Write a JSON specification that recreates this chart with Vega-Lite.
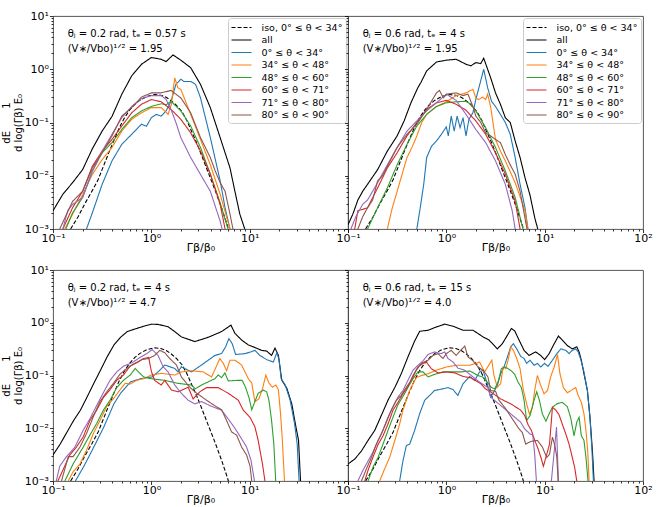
{
  "$schema": "https://vega.github.io/schema/vega-lite/v6.json",
  "background": "white",
  "padding": {"left": 0, "top": 9, "right": 5, "bottom": 0},
  "config": {
    "font": "DejaVu Sans",
    "view": {"stroke": "#444", "strokeWidth": 0.9},
    "axis": {"grid": false, "domain": false, "tickColor": "#000", "labelColor": "#000", "titleColor": "#000", "labelFontSize": 11, "titleFontSize": 11, "titleFontWeight": "normal", "labelFlush": false, "labelOverlap": false, "labelBound": false, "tickWidth": 0.8},
    "legend": {"symbolType": "M-2,0L2,0", "symbolSize": 100, "symbolOffset": 4, "symbolStrokeWidth": 1.5, "labelFontSize": 9.5, "labelColor": "#000", "rowPadding": 1.5, "padding": 3.5, "labelOffset": 14, "fillColor": "white", "strokeColor": "#cccccc", "cornerRadius": 3, "orient": "top-right", "offset": 2},
    "line": {"strokeWidth": 1.1, "clip": true}
  },
  "datasets": {
    "iso": [
      {"series": "iso", "x": 0.151, "y": 0.001}, {"series": "iso", "x": 0.18, "y": 0.0017}, {"series": "iso", "x": 0.211, "y": 0.003},
      {"series": "iso", "x": 0.25, "y": 0.0052}, {"series": "iso", "x": 0.288, "y": 0.0085}, {"series": "iso", "x": 0.33, "y": 0.016},
      {"series": "iso", "x": 0.363, "y": 0.025}, {"series": "iso", "x": 0.42, "y": 0.048}, {"series": "iso", "x": 0.473, "y": 0.08},
      {"series": "iso", "x": 0.53, "y": 0.12}, {"series": "iso", "x": 0.6, "y": 0.17}, {"series": "iso", "x": 0.68, "y": 0.22},
      {"series": "iso", "x": 0.76, "y": 0.26}, {"series": "iso", "x": 0.9, "y": 0.31}, {"series": "iso", "x": 1.08, "y": 0.335},
      {"series": "iso", "x": 1.25, "y": 0.325}, {"series": "iso", "x": 1.43, "y": 0.295}, {"series": "iso", "x": 1.62, "y": 0.25},
      {"series": "iso", "x": 1.8, "y": 0.21}, {"series": "iso", "x": 2.05, "y": 0.16}, {"series": "iso", "x": 2.29, "y": 0.11},
      {"series": "iso", "x": 2.55, "y": 0.07}, {"series": "iso", "x": 2.88, "y": 0.042}, {"series": "iso", "x": 3.25, "y": 0.024},
      {"series": "iso", "x": 3.66, "y": 0.0135}, {"series": "iso", "x": 4.15, "y": 0.0075}, {"series": "iso", "x": 4.65, "y": 0.0043},
      {"series": "iso", "x": 5.25, "y": 0.0023}, {"series": "iso", "x": 5.9, "y": 0.0012}, {"series": "iso", "x": 6.6, "y": 0.0006}
    ],
    "tl": [
      {"series": "all", "x": 0.1, "y": 0.0022}, {"series": "all", "x": 0.126, "y": 0.0045}, {"series": "all", "x": 0.158, "y": 0.0074},
      {"series": "all", "x": 0.2, "y": 0.013}, {"series": "all", "x": 0.251, "y": 0.032}, {"series": "all", "x": 0.316, "y": 0.069},
      {"series": "all", "x": 0.398, "y": 0.13}, {"series": "all", "x": 0.501, "y": 0.34}, {"series": "all", "x": 0.631, "y": 0.75},
      {"series": "all", "x": 0.794, "y": 1.24}, {"series": "all", "x": 1, "y": 1.66}, {"series": "all", "x": 1.259, "y": 1.54},
      {"series": "all", "x": 1.413, "y": 1.39}, {"series": "all", "x": 1.66, "y": 1.86}, {"series": "all", "x": 1.995, "y": 1.48},
      {"series": "all", "x": 2.512, "y": 1.07}, {"series": "all", "x": 3.162, "y": 0.52}, {"series": "all", "x": 3.981, "y": 0.19},
      {"series": "all", "x": 5.012, "y": 0.052}, {"series": "all", "x": 6.31, "y": 0.014}, {"series": "all", "x": 7.079, "y": 0.0051},
      {"series": "all", "x": 7.943, "y": 0.0019}, {"series": "all", "x": 8.913, "y": 0.001},

      {"series": "0-34", "x": 0.219, "y": 0.001}, {"series": "0-34", "x": 0.251, "y": 0.002}, {"series": "0-34", "x": 0.316, "y": 0.0069},
      {"series": "0-34", "x": 0.398, "y": 0.019}, {"series": "0-34", "x": 0.501, "y": 0.039}, {"series": "0-34", "x": 0.631, "y": 0.06},
      {"series": "0-34", "x": 0.794, "y": 0.093}, {"series": "0-34", "x": 0.891, "y": 0.085}, {"series": "0-34", "x": 1, "y": 0.123},
      {"series": "0-34", "x": 1.122, "y": 0.142}, {"series": "0-34", "x": 1.259, "y": 0.132}, {"series": "0-34", "x": 1.413, "y": 0.165},
      {"series": "0-34", "x": 1.585, "y": 0.25}, {"series": "0-34", "x": 1.778, "y": 0.52}, {"series": "0-34", "x": 1.995, "y": 0.65},
      {"series": "0-34", "x": 2.138, "y": 0.59}, {"series": "0-34", "x": 2.512, "y": 0.59}, {"series": "0-34", "x": 2.818, "y": 0.52},
      {"series": "0-34", "x": 3.162, "y": 0.29}, {"series": "0-34", "x": 3.548, "y": 0.123}, {"series": "0-34", "x": 3.981, "y": 0.052},
      {"series": "0-34", "x": 5.012, "y": 0.008}, {"series": "0-34", "x": 5.623, "y": 0.0025}, {"series": "0-34", "x": 6.31, "y": 0.001},

      {"series": "34-48", "x": 0.132, "y": 0.001}, {"series": "34-48", "x": 0.158, "y": 0.0019}, {"series": "34-48", "x": 0.2, "y": 0.0044},
      {"series": "34-48", "x": 0.251, "y": 0.0106}, {"series": "34-48", "x": 0.316, "y": 0.02}, {"series": "34-48", "x": 0.398, "y": 0.034},
      {"series": "34-48", "x": 0.501, "y": 0.069}, {"series": "34-48", "x": 0.631, "y": 0.115}, {"series": "34-48", "x": 0.794, "y": 0.152},
      {"series": "34-48", "x": 1, "y": 0.19}, {"series": "34-48", "x": 1.259, "y": 0.19}, {"series": "34-48", "x": 1.37, "y": 0.165},
      {"series": "34-48", "x": 1.48, "y": 0.142}, {"series": "34-48", "x": 1.6, "y": 0.22}, {"series": "34-48", "x": 1.73, "y": 0.69},
      {"series": "34-48", "x": 1.86, "y": 0.45}, {"series": "34-48", "x": 1.995, "y": 0.42}, {"series": "34-48", "x": 2.512, "y": 0.142},
      {"series": "34-48", "x": 3.162, "y": 0.048}, {"series": "34-48", "x": 3.981, "y": 0.016}, {"series": "34-48", "x": 5.012, "y": 0.0045},
      {"series": "34-48", "x": 6.31, "y": 0.001},

      {"series": "48-60", "x": 0.135, "y": 0.001}, {"series": "48-60", "x": 0.158, "y": 0.002}, {"series": "48-60", "x": 0.2, "y": 0.0039},
      {"series": "48-60", "x": 0.251, "y": 0.0123}, {"series": "48-60", "x": 0.316, "y": 0.027}, {"series": "48-60", "x": 0.398, "y": 0.042},
      {"series": "48-60", "x": 0.501, "y": 0.074}, {"series": "48-60", "x": 0.631, "y": 0.123}, {"series": "48-60", "x": 0.794, "y": 0.165},
      {"series": "48-60", "x": 1, "y": 0.2}, {"series": "48-60", "x": 1.259, "y": 0.225}, {"series": "48-60", "x": 1.413, "y": 0.215},
      {"series": "48-60", "x": 1.585, "y": 0.25}, {"series": "48-60", "x": 1.995, "y": 0.165}, {"series": "48-60", "x": 2.512, "y": 0.086},
      {"series": "48-60", "x": 3.162, "y": 0.034}, {"series": "48-60", "x": 3.981, "y": 0.0107}, {"series": "48-60", "x": 5.012, "y": 0.0031},
      {"series": "48-60", "x": 6.026, "y": 0.001},

      {"series": "60-71", "x": 0.126, "y": 0.001}, {"series": "60-71", "x": 0.158, "y": 0.0025}, {"series": "60-71", "x": 0.2, "y": 0.0051},
      {"series": "60-71", "x": 0.251, "y": 0.015}, {"series": "60-71", "x": 0.316, "y": 0.029}, {"series": "60-71", "x": 0.398, "y": 0.048},
      {"series": "60-71", "x": 0.501, "y": 0.086}, {"series": "60-71", "x": 0.631, "y": 0.152}, {"series": "60-71", "x": 0.794, "y": 0.22},
      {"series": "60-71", "x": 1, "y": 0.27}, {"series": "60-71", "x": 1.259, "y": 0.245}, {"series": "60-71", "x": 1.585, "y": 0.176},
      {"series": "60-71", "x": 1.995, "y": 0.115}, {"series": "60-71", "x": 2.512, "y": 0.064}, {"series": "60-71", "x": 3.162, "y": 0.029},
      {"series": "60-71", "x": 3.981, "y": 0.0107}, {"series": "60-71", "x": 5.012, "y": 0.0029}, {"series": "60-71", "x": 5.623, "y": 0.001},

      {"series": "71-80", "x": 0.126, "y": 0.001}, {"series": "71-80", "x": 0.141, "y": 0.0022}, {"series": "71-80", "x": 0.158, "y": 0.0029},
      {"series": "71-80", "x": 0.2, "y": 0.0039}, {"series": "71-80", "x": 0.251, "y": 0.012}, {"series": "71-80", "x": 0.316, "y": 0.029},
      {"series": "71-80", "x": 0.398, "y": 0.06}, {"series": "71-80", "x": 0.501, "y": 0.123}, {"series": "71-80", "x": 0.631, "y": 0.2},
      {"series": "71-80", "x": 0.794, "y": 0.28}, {"series": "71-80", "x": 1, "y": 0.32}, {"series": "71-80", "x": 1.259, "y": 0.32},
      {"series": "71-80", "x": 1.413, "y": 0.27}, {"series": "71-80", "x": 1.585, "y": 0.176}, {"series": "71-80", "x": 1.778, "y": 0.1},
      {"series": "71-80", "x": 1.995, "y": 0.052}, {"series": "71-80", "x": 2.512, "y": 0.022}, {"series": "71-80", "x": 3.162, "y": 0.0106},
      {"series": "71-80", "x": 3.981, "y": 0.0051}, {"series": "71-80", "x": 5.012, "y": 0.0014}, {"series": "71-80", "x": 5.248, "y": 0.001},

      {"series": "80-90", "x": 0.117, "y": 0.001}, {"series": "80-90", "x": 0.158, "y": 0.0033}, {"series": "80-90", "x": 0.2, "y": 0.0051},
      {"series": "80-90", "x": 0.251, "y": 0.014}, {"series": "80-90", "x": 0.316, "y": 0.027}, {"series": "80-90", "x": 0.398, "y": 0.056},
      {"series": "80-90", "x": 0.501, "y": 0.132}, {"series": "80-90", "x": 0.631, "y": 0.19}, {"series": "80-90", "x": 0.794, "y": 0.3},
      {"series": "80-90", "x": 1, "y": 0.36}, {"series": "80-90", "x": 1.259, "y": 0.36}, {"series": "80-90", "x": 1.585, "y": 0.4},
      {"series": "80-90", "x": 1.995, "y": 0.29}, {"series": "80-90", "x": 2.512, "y": 0.152}, {"series": "80-90", "x": 3.162, "y": 0.052},
      {"series": "80-90", "x": 3.981, "y": 0.022}, {"series": "80-90", "x": 4.467, "y": 0.0123}, {"series": "80-90", "x": 5.012, "y": 0.0074},
      {"series": "80-90", "x": 5.623, "y": 0.0051}, {"series": "80-90", "x": 6.31, "y": 0.0019}, {"series": "80-90", "x": 6.761, "y": 0.001}
    ],
    "tr": [
      {"series": "all", "x": 0.1, "y": 0.0012}, {"series": "all", "x": 0.112, "y": 0.0019}, {"series": "all", "x": 0.126, "y": 0.0035},
      {"series": "all", "x": 0.141, "y": 0.0051}, {"series": "all", "x": 0.158, "y": 0.0069}, {"series": "all", "x": 0.2, "y": 0.013},
      {"series": "all", "x": 0.251, "y": 0.029}, {"series": "all", "x": 0.316, "y": 0.056}, {"series": "all", "x": 0.372, "y": 0.107},
      {"series": "all", "x": 0.437, "y": 0.235}, {"series": "all", "x": 0.513, "y": 0.45}, {"series": "all", "x": 0.55, "y": 0.56},
      {"series": "all", "x": 0.631, "y": 0.93}, {"series": "all", "x": 0.794, "y": 1.37}, {"series": "all", "x": 1, "y": 1.48},
      {"series": "all", "x": 1.259, "y": 1.54}, {"series": "all", "x": 1.585, "y": 1.24}, {"series": "all", "x": 1.778, "y": 1.16},
      {"series": "all", "x": 1.995, "y": 1.33}, {"series": "all", "x": 2.239, "y": 1.28}, {"series": "all", "x": 2.399, "y": 1.61},
      {"series": "all", "x": 2.818, "y": 0.7}, {"series": "all", "x": 3.162, "y": 0.36}, {"series": "all", "x": 3.548, "y": 0.22},
      {"series": "all", "x": 3.981, "y": 0.123}, {"series": "all", "x": 4.467, "y": 0.1}, {"series": "all", "x": 5.012, "y": 0.045},
      {"series": "all", "x": 5.623, "y": 0.022}, {"series": "all", "x": 6.31, "y": 0.0092}, {"series": "all", "x": 7.079, "y": 0.0044},
      {"series": "all", "x": 7.943, "y": 0.0016}, {"series": "all", "x": 8.511, "y": 0.001},

      {"series": "0-34", "x": 0.501, "y": 0.001}, {"series": "0-34", "x": 0.537, "y": 0.0022}, {"series": "0-34", "x": 0.589, "y": 0.0069},
      {"series": "0-34", "x": 0.631, "y": 0.022}, {"series": "0-34", "x": 0.708, "y": 0.036}, {"series": "0-34", "x": 0.794, "y": 0.045},
      {"series": "0-34", "x": 0.891, "y": 0.06}, {"series": "0-34", "x": 1, "y": 0.083}, {"series": "0-34", "x": 1.047, "y": 0.056},
      {"series": "0-34", "x": 1.122, "y": 0.132}, {"series": "0-34", "x": 1.202, "y": 0.069}, {"series": "0-34", "x": 1.288, "y": 0.132},
      {"series": "0-34", "x": 1.38, "y": 0.08}, {"series": "0-34", "x": 1.479, "y": 0.123}, {"series": "0-34", "x": 1.585, "y": 0.056},
      {"series": "0-34", "x": 1.698, "y": 0.115}, {"series": "0-34", "x": 1.862, "y": 0.152}, {"series": "0-34", "x": 1.995, "y": 0.27},
      {"series": "0-34", "x": 2.188, "y": 0.52}, {"series": "0-34", "x": 2.399, "y": 1.0}, {"series": "0-34", "x": 2.63, "y": 0.45},
      {"series": "0-34", "x": 2.884, "y": 0.25}, {"series": "0-34", "x": 3.162, "y": 0.2}, {"series": "0-34", "x": 3.548, "y": 0.142},
      {"series": "0-34", "x": 3.981, "y": 0.1}, {"series": "0-34", "x": 4.467, "y": 0.06}, {"series": "0-34", "x": 5.012, "y": 0.022},
      {"series": "0-34", "x": 5.623, "y": 0.0069}, {"series": "0-34", "x": 6.31, "y": 0.0025}, {"series": "0-34", "x": 6.761, "y": 0.001},

      {"series": "34-48", "x": 0.251, "y": 0.001}, {"series": "34-48", "x": 0.282, "y": 0.0025}, {"series": "34-48", "x": 0.316, "y": 0.0051},
      {"series": "34-48", "x": 0.355, "y": 0.0107}, {"series": "34-48", "x": 0.398, "y": 0.022}, {"series": "34-48", "x": 0.447, "y": 0.034},
      {"series": "34-48", "x": 0.501, "y": 0.056}, {"series": "34-48", "x": 0.562, "y": 0.1}, {"series": "34-48", "x": 0.631, "y": 0.142},
      {"series": "34-48", "x": 0.794, "y": 0.2}, {"series": "34-48", "x": 1, "y": 0.245}, {"series": "34-48", "x": 1.259, "y": 0.32},
      {"series": "34-48", "x": 1.585, "y": 0.36}, {"series": "34-48", "x": 1.862, "y": 0.42}, {"series": "34-48", "x": 1.995, "y": 0.29},
      {"series": "34-48", "x": 2.138, "y": 0.27}, {"series": "34-48", "x": 2.344, "y": 0.3}, {"series": "34-48", "x": 2.512, "y": 0.27},
      {"series": "34-48", "x": 2.63, "y": 0.34}, {"series": "34-48", "x": 2.818, "y": 0.2}, {"series": "34-48", "x": 3.162, "y": 0.048},
      {"series": "34-48", "x": 3.548, "y": 0.029}, {"series": "34-48", "x": 3.981, "y": 0.019}, {"series": "34-48", "x": 5.012, "y": 0.0074},
      {"series": "34-48", "x": 6.31, "y": 0.0022}, {"series": "34-48", "x": 6.761, "y": 0.001},

      {"series": "48-60", "x": 0.158, "y": 0.001}, {"series": "48-60", "x": 0.2, "y": 0.0025}, {"series": "48-60", "x": 0.251, "y": 0.0059},
      {"series": "48-60", "x": 0.316, "y": 0.016}, {"series": "48-60", "x": 0.398, "y": 0.039}, {"series": "48-60", "x": 0.501, "y": 0.086},
      {"series": "48-60", "x": 0.631, "y": 0.142}, {"series": "48-60", "x": 0.794, "y": 0.2}, {"series": "48-60", "x": 1, "y": 0.235},
      {"series": "48-60", "x": 1.259, "y": 0.245}, {"series": "48-60", "x": 1.585, "y": 0.25}, {"series": "48-60", "x": 1.778, "y": 0.22},
      {"series": "48-60", "x": 1.995, "y": 0.165}, {"series": "48-60", "x": 2.512, "y": 0.08}, {"series": "48-60", "x": 3.162, "y": 0.034},
      {"series": "48-60", "x": 3.981, "y": 0.0123}, {"series": "48-60", "x": 5.012, "y": 0.0039}, {"series": "48-60", "x": 6.026, "y": 0.001},

      {"series": "60-71", "x": 0.117, "y": 0.001}, {"series": "60-71", "x": 0.126, "y": 0.0022}, {"series": "60-71", "x": 0.158, "y": 0.0025},
      {"series": "60-71", "x": 0.2, "y": 0.0059}, {"series": "60-71", "x": 0.251, "y": 0.014}, {"series": "60-71", "x": 0.316, "y": 0.027},
      {"series": "60-71", "x": 0.398, "y": 0.056}, {"series": "60-71", "x": 0.501, "y": 0.1}, {"series": "60-71", "x": 0.631, "y": 0.176},
      {"series": "60-71", "x": 0.794, "y": 0.235}, {"series": "60-71", "x": 1, "y": 0.26}, {"series": "60-71", "x": 1.259, "y": 0.22},
      {"series": "60-71", "x": 1.585, "y": 0.17}, {"series": "60-71", "x": 1.995, "y": 0.107}, {"series": "60-71", "x": 2.512, "y": 0.06},
      {"series": "60-71", "x": 3.162, "y": 0.027}, {"series": "60-71", "x": 3.981, "y": 0.0107}, {"series": "60-71", "x": 5.012, "y": 0.0033},
      {"series": "60-71", "x": 5.623, "y": 0.001},

      {"series": "71-80", "x": 0.107, "y": 0.001}, {"series": "71-80", "x": 0.12, "y": 0.0017}, {"series": "71-80", "x": 0.141, "y": 0.0029},
      {"series": "71-80", "x": 0.158, "y": 0.0035}, {"series": "71-80", "x": 0.2, "y": 0.0074}, {"series": "71-80", "x": 0.251, "y": 0.016},
      {"series": "71-80", "x": 0.316, "y": 0.034}, {"series": "71-80", "x": 0.398, "y": 0.069}, {"series": "71-80", "x": 0.501, "y": 0.107},
      {"series": "71-80", "x": 0.631, "y": 0.165}, {"series": "71-80", "x": 0.794, "y": 0.235}, {"series": "71-80", "x": 1, "y": 0.34},
      {"series": "71-80", "x": 1.259, "y": 0.26}, {"series": "71-80", "x": 1.585, "y": 0.142}, {"series": "71-80", "x": 1.995, "y": 0.074},
      {"series": "71-80", "x": 2.512, "y": 0.042}, {"series": "71-80", "x": 3.162, "y": 0.019}, {"series": "71-80", "x": 3.981, "y": 0.0069},
      {"series": "71-80", "x": 4.677, "y": 0.0022}, {"series": "71-80", "x": 5.012, "y": 0.001},

      {"series": "80-90", "x": 0.126, "y": 0.001}, {"series": "80-90", "x": 0.141, "y": 0.0017}, {"series": "80-90", "x": 0.158, "y": 0.0025},
      {"series": "80-90", "x": 0.178, "y": 0.0035}, {"series": "80-90", "x": 0.2, "y": 0.008}, {"series": "80-90", "x": 0.224, "y": 0.01},
      {"series": "80-90", "x": 0.251, "y": 0.015}, {"series": "80-90", "x": 0.316, "y": 0.034}, {"series": "80-90", "x": 0.398, "y": 0.06},
      {"series": "80-90", "x": 0.501, "y": 0.093}, {"series": "80-90", "x": 0.631, "y": 0.176}, {"series": "80-90", "x": 0.794, "y": 0.36},
      {"series": "80-90", "x": 0.851, "y": 0.4}, {"series": "80-90", "x": 0.933, "y": 0.29}, {"series": "80-90", "x": 1, "y": 0.34},
      {"series": "80-90", "x": 1.259, "y": 0.36}, {"series": "80-90", "x": 1.479, "y": 0.32}, {"series": "80-90", "x": 1.66, "y": 0.34},
      {"series": "80-90", "x": 1.862, "y": 0.2}, {"series": "80-90", "x": 1.995, "y": 0.132}, {"series": "80-90", "x": 2.239, "y": 0.1},
      {"series": "80-90", "x": 2.512, "y": 0.064}, {"series": "80-90", "x": 2.818, "y": 0.056}, {"series": "80-90", "x": 3.162, "y": 0.048},
      {"series": "80-90", "x": 3.548, "y": 0.042}, {"series": "80-90", "x": 3.981, "y": 0.025}, {"series": "80-90", "x": 4.467, "y": 0.016},
      {"series": "80-90", "x": 5.012, "y": 0.0107}, {"series": "80-90", "x": 5.623, "y": 0.0051}, {"series": "80-90", "x": 6.31, "y": 0.0016},
      {"series": "80-90", "x": 6.607, "y": 0.001}
    ],
    "bl": [
      {"series": "all", "x": 0.1, "y": 0.0031}, {"series": "all", "x": 0.119, "y": 0.0051}, {"series": "all", "x": 0.139, "y": 0.0085},
      {"series": "all", "x": 0.162, "y": 0.014}, {"series": "all", "x": 0.19, "y": 0.022}, {"series": "all", "x": 0.222, "y": 0.039},
      {"series": "all", "x": 0.26, "y": 0.071}, {"series": "all", "x": 0.304, "y": 0.126}, {"series": "all", "x": 0.355, "y": 0.225},
      {"series": "all", "x": 0.417, "y": 0.38}, {"series": "all", "x": 0.486, "y": 0.53}, {"series": "all", "x": 0.569, "y": 0.68},
      {"series": "all", "x": 0.665, "y": 0.75}, {"series": "all", "x": 0.84, "y": 0.86}, {"series": "all", "x": 1.0, "y": 0.94},
      {"series": "all", "x": 1.17, "y": 0.93}, {"series": "all", "x": 1.48, "y": 0.84}, {"series": "all", "x": 1.73, "y": 0.68},
      {"series": "all", "x": 2.02, "y": 0.54}, {"series": "all", "x": 2.77, "y": 0.44}, {"series": "all", "x": 3.79, "y": 0.53},
      {"series": "all", "x": 5.18, "y": 0.68}, {"series": "all", "x": 6.45, "y": 0.9}, {"series": "all", "x": 7.08, "y": 0.63},
      {"series": "all", "x": 8.28, "y": 0.47}, {"series": "all", "x": 9.69, "y": 0.38}, {"series": "all", "x": 11.3, "y": 0.34},
      {"series": "all", "x": 13.2, "y": 0.3}, {"series": "all", "x": 14.9, "y": 0.29}, {"series": "all", "x": 16.7, "y": 0.24},
      {"series": "all", "x": 18.1, "y": 0.33}, {"series": "all", "x": 19.6, "y": 0.24}, {"series": "all", "x": 21.2, "y": 0.082},
      {"series": "all", "x": 23.9, "y": 0.057}, {"series": "all", "x": 26.8, "y": 0.029}, {"series": "all", "x": 29.5, "y": 0.0107},
      {"series": "all", "x": 31.4, "y": 0.0059}, {"series": "all", "x": 32.9, "y": 0.001},

      {"series": "0-34", "x": 0.169, "y": 0.001}, {"series": "0-34", "x": 0.206, "y": 0.0019}, {"series": "0-34", "x": 0.26, "y": 0.0044},
      {"series": "0-34", "x": 0.329, "y": 0.0106}, {"series": "0-34", "x": 0.416, "y": 0.029}, {"series": "0-34", "x": 0.486, "y": 0.046},
      {"series": "0-34", "x": 0.615, "y": 0.076}, {"series": "0-34", "x": 0.78, "y": 0.087}, {"series": "0-34", "x": 1.02, "y": 0.094},
      {"series": "0-34", "x": 1.22, "y": 0.126}, {"series": "0-34", "x": 1.37, "y": 0.158}, {"series": "0-34", "x": 1.73, "y": 0.136},
      {"series": "0-34", "x": 1.87, "y": 0.117}, {"series": "0-34", "x": 2.02, "y": 0.146}, {"series": "0-34", "x": 2.56, "y": 0.117},
      {"series": "0-34", "x": 3.24, "y": 0.158}, {"series": "0-34", "x": 4.43, "y": 0.24}, {"series": "0-34", "x": 5.18, "y": 0.26},
      {"series": "0-34", "x": 5.69, "y": 0.35}, {"series": "0-34", "x": 6.15, "y": 0.5}, {"series": "0-34", "x": 6.65, "y": 0.4},
      {"series": "0-34", "x": 7.2, "y": 0.25}, {"series": "0-34", "x": 8.96, "y": 0.26}, {"series": "0-34", "x": 10.3, "y": 0.28},
      {"series": "0-34", "x": 11.3, "y": 0.3}, {"series": "0-34", "x": 12.7, "y": 0.24}, {"series": "0-34", "x": 14.9, "y": 0.2},
      {"series": "0-34", "x": 17.4, "y": 0.18}, {"series": "0-34", "x": 18.9, "y": 0.27}, {"series": "0-34", "x": 19.9, "y": 0.2},
      {"series": "0-34", "x": 20.9, "y": 0.087}, {"series": "0-34", "x": 23.0, "y": 0.066}, {"series": "0-34", "x": 25.8, "y": 0.034},
      {"series": "0-34", "x": 28.6, "y": 0.0123}, {"series": "0-34", "x": 30.4, "y": 0.0051}, {"series": "0-34", "x": 31.8, "y": 0.001},

      {"series": "34-48", "x": 0.143, "y": 0.001}, {"series": "34-48", "x": 0.16, "y": 0.0015}, {"series": "34-48", "x": 0.188, "y": 0.0021},
      {"series": "34-48", "x": 0.219, "y": 0.0038}, {"series": "34-48", "x": 0.257, "y": 0.0079}, {"series": "34-48", "x": 0.3, "y": 0.014},
      {"series": "34-48", "x": 0.352, "y": 0.026}, {"series": "34-48", "x": 0.411, "y": 0.036}, {"series": "34-48", "x": 0.482, "y": 0.054},
      {"series": "34-48", "x": 0.542, "y": 0.071}, {"series": "34-48", "x": 0.61, "y": 0.069}, {"series": "34-48", "x": 0.71, "y": 0.081},
      {"series": "34-48", "x": 0.835, "y": 0.087}, {"series": "34-48", "x": 1.0, "y": 0.102}, {"series": "34-48", "x": 1.26, "y": 0.11},
      {"series": "34-48", "x": 1.73, "y": 0.102}, {"series": "34-48", "x": 2.02, "y": 0.117}, {"series": "34-48", "x": 2.56, "y": 0.123},
      {"series": "34-48", "x": 3.37, "y": 0.117}, {"series": "34-48", "x": 4.1, "y": 0.094}, {"series": "34-48", "x": 4.98, "y": 0.21},
      {"series": "34-48", "x": 5.39, "y": 0.17}, {"series": "34-48", "x": 5.83, "y": 0.123}, {"series": "34-48", "x": 6.3, "y": 0.195},
      {"series": "34-48", "x": 7.08, "y": 0.195}, {"series": "34-48", "x": 8.28, "y": 0.158}, {"series": "34-48", "x": 9.69, "y": 0.087},
      {"series": "34-48", "x": 10.5, "y": 0.072}, {"series": "34-48", "x": 11.3, "y": 0.032}, {"series": "34-48", "x": 12.4, "y": 0.036},
      {"series": "34-48", "x": 13.5, "y": 0.056}, {"series": "34-48", "x": 14.6, "y": 0.102}, {"series": "34-48", "x": 15.7, "y": 0.072},
      {"series": "34-48", "x": 17.0, "y": 0.06}, {"series": "34-48", "x": 18.4, "y": 0.066}, {"series": "34-48", "x": 19.6, "y": 0.054},
      {"series": "34-48", "x": 20.6, "y": 0.019}, {"series": "34-48", "x": 21.5, "y": 0.0059}, {"series": "34-48", "x": 22.6, "y": 0.001},

      {"series": "48-60", "x": 0.132, "y": 0.001}, {"series": "48-60", "x": 0.16, "y": 0.0021}, {"series": "48-60", "x": 0.203, "y": 0.0044},
      {"series": "48-60", "x": 0.237, "y": 0.0074}, {"series": "48-60", "x": 0.278, "y": 0.0123}, {"series": "48-60", "x": 0.325, "y": 0.022},
      {"series": "48-60", "x": 0.38, "y": 0.034}, {"series": "48-60", "x": 0.445, "y": 0.059}, {"series": "48-60", "x": 0.52, "y": 0.081},
      {"series": "48-60", "x": 0.61, "y": 0.102}, {"series": "48-60", "x": 0.685, "y": 0.136}, {"series": "48-60", "x": 0.74, "y": 0.117},
      {"series": "48-60", "x": 0.835, "y": 0.094}, {"series": "48-60", "x": 1.0, "y": 0.087}, {"series": "48-60", "x": 1.37, "y": 0.081},
      {"series": "48-60", "x": 1.87, "y": 0.071}, {"series": "48-60", "x": 2.56, "y": 0.066}, {"series": "48-60", "x": 2.81, "y": 0.056},
      {"series": "48-60", "x": 3.24, "y": 0.066}, {"series": "48-60", "x": 4.43, "y": 0.087}, {"series": "48-60", "x": 4.79, "y": 0.102},
      {"series": "48-60", "x": 5.18, "y": 0.091}, {"series": "48-60", "x": 5.6, "y": 0.112}, {"series": "48-60", "x": 6.06, "y": 0.079},
      {"series": "48-60", "x": 7.66, "y": 0.081}, {"series": "48-60", "x": 8.41, "y": 0.081}, {"series": "48-60", "x": 9.1, "y": 0.059},
      {"series": "48-60", "x": 9.84, "y": 0.038}, {"series": "48-60", "x": 10.5, "y": 0.0224}, {"series": "48-60", "x": 11.3, "y": 0.032},
      {"series": "48-60", "x": 12.2, "y": 0.046}, {"series": "48-60", "x": 13.8, "y": 0.053}, {"series": "48-60", "x": 14.9, "y": 0.049},
      {"series": "48-60", "x": 15.7, "y": 0.034}, {"series": "48-60", "x": 16.7, "y": 0.014}, {"series": "48-60", "x": 17.6, "y": 0.0051},
      {"series": "48-60", "x": 18.4, "y": 0.001},

      {"series": "60-71", "x": 0.112, "y": 0.001}, {"series": "60-71", "x": 0.126, "y": 0.0016}, {"series": "60-71", "x": 0.148, "y": 0.0031},
      {"series": "60-71", "x": 0.173, "y": 0.0044}, {"series": "60-71", "x": 0.203, "y": 0.0069}, {"series": "60-71", "x": 0.237, "y": 0.014},
      {"series": "60-71", "x": 0.278, "y": 0.022}, {"series": "60-71", "x": 0.325, "y": 0.038}, {"series": "60-71", "x": 0.38, "y": 0.054},
      {"series": "60-71", "x": 0.445, "y": 0.081}, {"series": "60-71", "x": 0.52, "y": 0.102}, {"series": "60-71", "x": 0.61, "y": 0.152},
      {"series": "60-71", "x": 0.71, "y": 0.174}, {"series": "60-71", "x": 0.835, "y": 0.21}, {"series": "60-71", "x": 0.94, "y": 0.22},
      {"series": "60-71", "x": 1.0, "y": 0.12}, {"series": "60-71", "x": 1.08, "y": 0.081}, {"series": "60-71", "x": 1.26, "y": 0.066},
      {"series": "60-71", "x": 1.37, "y": 0.081}, {"series": "60-71", "x": 1.6, "y": 0.053}, {"series": "60-71", "x": 1.87, "y": 0.049},
      {"series": "60-71", "x": 2.37, "y": 0.06}, {"series": "60-71", "x": 2.66, "y": 0.036}, {"series": "60-71", "x": 3.11, "y": 0.049},
      {"series": "60-71", "x": 3.64, "y": 0.059}, {"series": "60-71", "x": 4.79, "y": 0.059}, {"series": "60-71", "x": 6.06, "y": 0.046},
      {"series": "60-71", "x": 7.66, "y": 0.034}, {"series": "60-71", "x": 8.61, "y": 0.022}, {"series": "60-71", "x": 10.1, "y": 0.016},
      {"series": "60-71", "x": 11.3, "y": 0.0107}, {"series": "60-71", "x": 12.2, "y": 0.0059}, {"series": "60-71", "x": 13.5, "y": 0.0021},
      {"series": "60-71", "x": 14.3, "y": 0.001},

      {"series": "71-80", "x": 0.108, "y": 0.001}, {"series": "71-80", "x": 0.117, "y": 0.0019}, {"series": "71-80", "x": 0.137, "y": 0.0029},
      {"series": "71-80", "x": 0.167, "y": 0.0044}, {"series": "71-80", "x": 0.203, "y": 0.0092}, {"series": "71-80", "x": 0.237, "y": 0.015},
      {"series": "71-80", "x": 0.278, "y": 0.027}, {"series": "71-80", "x": 0.325, "y": 0.047}, {"series": "71-80", "x": 0.38, "y": 0.081},
      {"series": "71-80", "x": 0.445, "y": 0.117}, {"series": "71-80", "x": 0.52, "y": 0.15}, {"series": "71-80", "x": 0.634, "y": 0.174},
      {"series": "71-80", "x": 0.77, "y": 0.22}, {"series": "71-80", "x": 0.9, "y": 0.26}, {"series": "71-80", "x": 1.02, "y": 0.31},
      {"series": "71-80", "x": 1.17, "y": 0.24}, {"series": "71-80", "x": 1.32, "y": 0.146}, {"series": "71-80", "x": 1.48, "y": 0.117},
      {"series": "71-80", "x": 1.73, "y": 0.066}, {"series": "71-80", "x": 2.02, "y": 0.046}, {"series": "71-80", "x": 2.37, "y": 0.034},
      {"series": "71-80", "x": 2.77, "y": 0.029}, {"series": "71-80", "x": 3.24, "y": 0.032}, {"series": "71-80", "x": 4.1, "y": 0.026},
      {"series": "71-80", "x": 5.18, "y": 0.022}, {"series": "71-80", "x": 6.06, "y": 0.015}, {"series": "71-80", "x": 7.08, "y": 0.01},
      {"series": "71-80", "x": 8.28, "y": 0.0063}, {"series": "71-80", "x": 9.31, "y": 0.0044}, {"series": "71-80", "x": 10.3, "y": 0.0025},
      {"series": "71-80", "x": 11.2, "y": 0.001},

      {"series": "80-90", "x": 0.122, "y": 0.001}, {"series": "80-90", "x": 0.143, "y": 0.0029}, {"series": "80-90", "x": 0.16, "y": 0.0029},
      {"series": "80-90", "x": 0.188, "y": 0.0044}, {"series": "80-90", "x": 0.219, "y": 0.0079}, {"series": "80-90", "x": 0.257, "y": 0.0165},
      {"series": "80-90", "x": 0.3, "y": 0.032}, {"series": "80-90", "x": 0.352, "y": 0.049}, {"series": "80-90", "x": 0.411, "y": 0.071},
      {"series": "80-90", "x": 0.482, "y": 0.107}, {"series": "80-90", "x": 0.564, "y": 0.136}, {"series": "80-90", "x": 0.659, "y": 0.165},
      {"series": "80-90", "x": 0.8, "y": 0.2}, {"series": "80-90", "x": 0.94, "y": 0.21}, {"series": "80-90", "x": 1.08, "y": 0.24},
      {"series": "80-90", "x": 1.22, "y": 0.3}, {"series": "80-90", "x": 1.37, "y": 0.27}, {"series": "80-90", "x": 1.54, "y": 0.21},
      {"series": "80-90", "x": 1.8, "y": 0.158}, {"series": "80-90", "x": 2.02, "y": 0.094}, {"series": "80-90", "x": 2.46, "y": 0.06},
      {"series": "80-90", "x": 2.77, "y": 0.049}, {"series": "80-90", "x": 3.11, "y": 0.042}, {"series": "80-90", "x": 3.64, "y": 0.034},
      {"series": "80-90", "x": 4.6, "y": 0.0255}, {"series": "80-90", "x": 5.18, "y": 0.0225}, {"series": "80-90", "x": 5.83, "y": 0.014},
      {"series": "80-90", "x": 6.55, "y": 0.0085}, {"series": "80-90", "x": 7.37, "y": 0.0074}, {"series": "80-90", "x": 8.28, "y": 0.0044},
      {"series": "80-90", "x": 9.31, "y": 0.0031}, {"series": "80-90", "x": 10.1, "y": 0.0019}, {"series": "80-90", "x": 10.5, "y": 0.001}
    ],
    "br": [
      {"series": "all", "x": 0.1, "y": 0.0021}, {"series": "all", "x": 0.117, "y": 0.0026}, {"series": "all", "x": 0.137, "y": 0.0037},
      {"series": "all", "x": 0.16, "y": 0.0059}, {"series": "all", "x": 0.187, "y": 0.0091}, {"series": "all", "x": 0.218, "y": 0.0174},
      {"series": "all", "x": 0.255, "y": 0.034}, {"series": "all", "x": 0.299, "y": 0.059}, {"series": "all", "x": 0.348, "y": 0.108},
      {"series": "all", "x": 0.407, "y": 0.225}, {"series": "all", "x": 0.476, "y": 0.45}, {"series": "all", "x": 0.536, "y": 0.69},
      {"series": "all", "x": 0.652, "y": 0.72}, {"series": "all", "x": 0.76, "y": 0.81}, {"series": "all", "x": 0.962, "y": 0.94},
      {"series": "all", "x": 1.17, "y": 0.86}, {"series": "all", "x": 1.48, "y": 0.72}, {"series": "all", "x": 1.87, "y": 0.72},
      {"series": "all", "x": 2.36, "y": 0.54}, {"series": "all", "x": 2.72, "y": 0.47}, {"series": "all", "x": 3.3, "y": 0.32},
      {"series": "all", "x": 3.71, "y": 0.4}, {"series": "all", "x": 4.18, "y": 0.58}, {"series": "all", "x": 4.59, "y": 0.78},
      {"series": "all", "x": 4.96, "y": 0.7}, {"series": "all", "x": 5.49, "y": 0.47}, {"series": "all", "x": 6.17, "y": 0.3},
      {"series": "all", "x": 6.93, "y": 0.24}, {"series": "all", "x": 8.1, "y": 0.28}, {"series": "all", "x": 9.12, "y": 0.24},
      {"series": "all", "x": 10.0, "y": 0.2}, {"series": "all", "x": 11.1, "y": 0.26}, {"series": "all", "x": 12.5, "y": 0.4},
      {"series": "all", "x": 13.8, "y": 0.56}, {"series": "all", "x": 15.1, "y": 0.47}, {"series": "all", "x": 17.0, "y": 0.37},
      {"series": "all", "x": 19.1, "y": 0.32}, {"series": "all", "x": 21.2, "y": 0.35}, {"series": "all", "x": 22.4, "y": 0.28},
      {"series": "all", "x": 23.6, "y": 0.195}, {"series": "all", "x": 25.1, "y": 0.108}, {"series": "all", "x": 27.2, "y": 0.052},
      {"series": "all", "x": 28.9, "y": 0.016}, {"series": "all", "x": 30.6, "y": 0.0037}, {"series": "all", "x": 31.8, "y": 0.001},

      {"series": "0-34", "x": 0.335, "y": 0.001}, {"series": "0-34", "x": 0.362, "y": 0.0024}, {"series": "0-34", "x": 0.392, "y": 0.0047},
      {"series": "0-34", "x": 0.424, "y": 0.005}, {"series": "0-34", "x": 0.476, "y": 0.0091}, {"series": "0-34", "x": 0.536, "y": 0.019},
      {"series": "0-34", "x": 0.603, "y": 0.034}, {"series": "0-34", "x": 0.678, "y": 0.042}, {"series": "0-34", "x": 0.76, "y": 0.052},
      {"series": "0-34", "x": 0.925, "y": 0.056}, {"series": "0-34", "x": 1.04, "y": 0.059}, {"series": "0-34", "x": 1.17, "y": 0.054},
      {"series": "0-34", "x": 1.31, "y": 0.042}, {"series": "0-34", "x": 1.48, "y": 0.07}, {"series": "0-34", "x": 1.73, "y": 0.096},
      {"series": "0-34", "x": 1.94, "y": 0.081}, {"series": "0-34", "x": 2.18, "y": 0.117}, {"series": "0-34", "x": 2.36, "y": 0.126},
      {"series": "0-34", "x": 2.61, "y": 0.07}, {"series": "0-34", "x": 2.82, "y": 0.039}, {"series": "0-34", "x": 3.05, "y": 0.049},
      {"series": "0-34", "x": 3.3, "y": 0.065}, {"series": "0-34", "x": 3.57, "y": 0.108}, {"series": "0-34", "x": 3.86, "y": 0.145},
      {"series": "0-34", "x": 4.18, "y": 0.225}, {"series": "0-34", "x": 4.52, "y": 0.35}, {"series": "0-34", "x": 4.81, "y": 0.4},
      {"series": "0-34", "x": 5.2, "y": 0.32}, {"series": "0-34", "x": 5.71, "y": 0.23}, {"series": "0-34", "x": 6.17, "y": 0.21},
      {"series": "0-34", "x": 6.56, "y": 0.17}, {"series": "0-34", "x": 7.1, "y": 0.195}, {"series": "0-34", "x": 7.8, "y": 0.156},
      {"series": "0-34", "x": 8.43, "y": 0.17}, {"series": "0-34", "x": 9.12, "y": 0.145}, {"series": "0-34", "x": 10.0, "y": 0.17},
      {"series": "0-34", "x": 10.8, "y": 0.149}, {"series": "0-34", "x": 12.0, "y": 0.195}, {"series": "0-34", "x": 13.3, "y": 0.26},
      {"series": "0-34", "x": 14.6, "y": 0.32}, {"series": "0-34", "x": 16.4, "y": 0.3}, {"series": "0-34", "x": 17.7, "y": 0.26},
      {"series": "0-34", "x": 19.1, "y": 0.3}, {"series": "0-34", "x": 20.7, "y": 0.32}, {"series": "0-34", "x": 21.9, "y": 0.28},
      {"series": "0-34", "x": 23.3, "y": 0.2}, {"series": "0-34", "x": 25.1, "y": 0.117}, {"series": "0-34", "x": 27.2, "y": 0.052},
      {"series": "0-34", "x": 28.9, "y": 0.016}, {"series": "0-34", "x": 30.3, "y": 0.0037}, {"series": "0-34", "x": 31.3, "y": 0.001},

      {"series": "34-48", "x": 0.21, "y": 0.001}, {"series": "34-48", "x": 0.236, "y": 0.0017}, {"series": "34-48", "x": 0.265, "y": 0.0028},
      {"series": "34-48", "x": 0.299, "y": 0.0058}, {"series": "34-48", "x": 0.335, "y": 0.012}, {"series": "34-48", "x": 0.362, "y": 0.022},
      {"series": "34-48", "x": 0.392, "y": 0.034}, {"series": "34-48", "x": 0.424, "y": 0.052}, {"series": "34-48", "x": 0.458, "y": 0.07},
      {"series": "34-48", "x": 0.495, "y": 0.091}, {"series": "34-48", "x": 0.557, "y": 0.1}, {"series": "34-48", "x": 0.652, "y": 0.108},
      {"series": "34-48", "x": 0.791, "y": 0.126}, {"series": "34-48", "x": 1.0, "y": 0.145}, {"series": "34-48", "x": 1.26, "y": 0.156},
      {"series": "34-48", "x": 1.73, "y": 0.156}, {"series": "34-48", "x": 2.18, "y": 0.18}, {"series": "34-48", "x": 2.45, "y": 0.117},
      {"series": "34-48", "x": 2.9, "y": 0.195}, {"series": "34-48", "x": 3.05, "y": 0.1}, {"series": "34-48", "x": 3.3, "y": 0.06},
      {"series": "34-48", "x": 3.57, "y": 0.07}, {"series": "34-48", "x": 3.78, "y": 0.145}, {"series": "34-48", "x": 4.02, "y": 0.135},
      {"series": "34-48", "x": 4.25, "y": 0.195}, {"series": "34-48", "x": 4.52, "y": 0.35}, {"series": "34-48", "x": 4.81, "y": 0.3},
      {"series": "34-48", "x": 5.2, "y": 0.21}, {"series": "34-48", "x": 5.62, "y": 0.135}, {"series": "34-48", "x": 6.08, "y": 0.052},
      {"series": "34-48", "x": 6.56, "y": 0.029}, {"series": "34-48", "x": 6.99, "y": 0.0187}, {"series": "34-48", "x": 7.5, "y": 0.0245},
      {"series": "34-48", "x": 7.92, "y": 0.052}, {"series": "34-48", "x": 8.43, "y": 0.1}, {"series": "34-48", "x": 9.12, "y": 0.065},
      {"series": "34-48", "x": 9.86, "y": 0.045}, {"series": "34-48", "x": 10.7, "y": 0.052}, {"series": "34-48", "x": 11.5, "y": 0.094},
      {"series": "34-48", "x": 12.5, "y": 0.145}, {"series": "34-48", "x": 13.5, "y": 0.25}, {"series": "34-48", "x": 14.3, "y": 0.108},
      {"series": "34-48", "x": 15.5, "y": 0.059}, {"series": "34-48", "x": 17.0, "y": 0.047}, {"series": "34-48", "x": 19.1, "y": 0.054},
      {"series": "34-48", "x": 20.7, "y": 0.059}, {"series": "34-48", "x": 21.9, "y": 0.042}, {"series": "34-48", "x": 23.6, "y": 0.031},
      {"series": "34-48", "x": 25.1, "y": 0.0187}, {"series": "34-48", "x": 26.3, "y": 0.0091}, {"series": "34-48", "x": 27.4, "y": 0.0037},
      {"series": "34-48", "x": 28.3, "y": 0.001},

      {"series": "48-60", "x": 0.16, "y": 0.001}, {"series": "48-60", "x": 0.179, "y": 0.0018}, {"series": "48-60", "x": 0.202, "y": 0.0028},
      {"series": "48-60", "x": 0.227, "y": 0.005}, {"series": "48-60", "x": 0.255, "y": 0.0091}, {"series": "48-60", "x": 0.287, "y": 0.0162},
      {"series": "48-60", "x": 0.322, "y": 0.028}, {"series": "48-60", "x": 0.362, "y": 0.04}, {"series": "48-60", "x": 0.407, "y": 0.059},
      {"series": "48-60", "x": 0.458, "y": 0.087}, {"series": "48-60", "x": 0.515, "y": 0.117}, {"series": "48-60", "x": 0.579, "y": 0.117},
      {"series": "48-60", "x": 0.652, "y": 0.094}, {"series": "48-60", "x": 0.76, "y": 0.105}, {"series": "48-60", "x": 0.925, "y": 0.117},
      {"series": "48-60", "x": 1.12, "y": 0.117}, {"series": "48-60", "x": 1.42, "y": 0.117}, {"series": "48-60", "x": 1.73, "y": 0.122},
      {"series": "48-60", "x": 2.1, "y": 0.1}, {"series": "48-60", "x": 2.33, "y": 0.094}, {"series": "48-60", "x": 2.61, "y": 0.075},
      {"series": "48-60", "x": 2.87, "y": 0.059}, {"series": "48-60", "x": 3.1, "y": 0.056}, {"series": "48-60", "x": 3.36, "y": 0.075},
      {"series": "48-60", "x": 3.63, "y": 0.135}, {"series": "48-60", "x": 3.93, "y": 0.145}, {"series": "48-60", "x": 4.25, "y": 0.135},
      {"series": "48-60", "x": 4.59, "y": 0.122}, {"series": "48-60", "x": 4.96, "y": 0.105}, {"series": "48-60", "x": 5.36, "y": 0.075},
      {"series": "48-60", "x": 5.8, "y": 0.059}, {"series": "48-60", "x": 6.17, "y": 0.034}, {"series": "48-60", "x": 6.56, "y": 0.014},
      {"series": "48-60", "x": 7.1, "y": 0.0174}, {"series": "48-60", "x": 7.8, "y": 0.034}, {"series": "48-60", "x": 8.3, "y": 0.049},
      {"series": "48-60", "x": 8.84, "y": 0.034}, {"series": "48-60", "x": 9.48, "y": 0.0187}, {"series": "48-60", "x": 10.3, "y": 0.0136},
      {"series": "48-60", "x": 11.1, "y": 0.0187}, {"series": "48-60", "x": 12.0, "y": 0.025}, {"series": "48-60", "x": 13.3, "y": 0.029},
      {"series": "48-60", "x": 15.1, "y": 0.031}, {"series": "48-60", "x": 17.0, "y": 0.0257}, {"series": "48-60", "x": 18.4, "y": 0.0158},
      {"series": "48-60", "x": 19.9, "y": 0.0072}, {"series": "48-60", "x": 21.2, "y": 0.013}, {"series": "48-60", "x": 22.4, "y": 0.0162},
      {"series": "48-60", "x": 23.6, "y": 0.0072}, {"series": "48-60", "x": 25.1, "y": 0.0059}, {"series": "48-60", "x": 26.3, "y": 0.0028},
      {"series": "48-60", "x": 27.6, "y": 0.001},

      {"series": "60-71", "x": 0.148, "y": 0.001}, {"series": "60-71", "x": 0.16, "y": 0.0016}, {"series": "60-71", "x": 0.179, "y": 0.0028},
      {"series": "60-71", "x": 0.202, "y": 0.0049}, {"series": "60-71", "x": 0.227, "y": 0.0072}, {"series": "60-71", "x": 0.255, "y": 0.012},
      {"series": "60-71", "x": 0.287, "y": 0.022}, {"series": "60-71", "x": 0.322, "y": 0.031}, {"series": "60-71", "x": 0.362, "y": 0.045},
      {"series": "60-71", "x": 0.407, "y": 0.062}, {"series": "60-71", "x": 0.458, "y": 0.1}, {"series": "60-71", "x": 0.515, "y": 0.145},
      {"series": "60-71", "x": 0.579, "y": 0.17}, {"series": "60-71", "x": 0.627, "y": 0.18}, {"series": "60-71", "x": 0.703, "y": 0.135},
      {"series": "60-71", "x": 0.822, "y": 0.112}, {"series": "60-71", "x": 1.0, "y": 0.117}, {"series": "60-71", "x": 1.22, "y": 0.112},
      {"series": "60-71", "x": 1.48, "y": 0.096}, {"series": "60-71", "x": 1.79, "y": 0.09}, {"series": "60-71", "x": 2.24, "y": 0.07},
      {"series": "60-71", "x": 2.5, "y": 0.056}, {"series": "60-71", "x": 2.82, "y": 0.049}, {"series": "60-71", "x": 3.57, "y": 0.036},
      {"series": "60-71", "x": 4.52, "y": 0.029}, {"series": "60-71", "x": 5.71, "y": 0.022}, {"series": "60-71", "x": 6.27, "y": 0.0174},
      {"series": "60-71", "x": 6.78, "y": 0.0117}, {"series": "60-71", "x": 7.33, "y": 0.0091}, {"series": "60-71", "x": 7.92, "y": 0.0059},
      {"series": "60-71", "x": 8.57, "y": 0.0041}, {"series": "60-71", "x": 9.27, "y": 0.0026}, {"series": "60-71", "x": 9.7, "y": 0.0019},
      {"series": "60-71", "x": 10.3, "y": 0.0028}, {"series": "60-71", "x": 11.2, "y": 0.005}, {"series": "60-71", "x": 12.0, "y": 0.025},
      {"series": "60-71", "x": 13.0, "y": 0.022}, {"series": "60-71", "x": 14.0, "y": 0.018}, {"series": "60-71", "x": 15.1, "y": 0.012},
      {"series": "60-71", "x": 16.4, "y": 0.0078}, {"series": "60-71", "x": 17.7, "y": 0.005}, {"series": "60-71", "x": 19.1, "y": 0.0028},
      {"series": "60-71", "x": 20.2, "y": 0.0018}, {"series": "60-71", "x": 21.2, "y": 0.001},

      {"series": "71-80", "x": 0.126, "y": 0.001}, {"series": "71-80", "x": 0.142, "y": 0.0016}, {"series": "71-80", "x": 0.16, "y": 0.0024},
      {"series": "71-80", "x": 0.179, "y": 0.0035}, {"series": "71-80", "x": 0.202, "y": 0.0058}, {"series": "71-80", "x": 0.227, "y": 0.0091},
      {"series": "71-80", "x": 0.255, "y": 0.0162}, {"series": "71-80", "x": 0.287, "y": 0.0257}, {"series": "71-80", "x": 0.322, "y": 0.039},
      {"series": "71-80", "x": 0.362, "y": 0.052}, {"series": "71-80", "x": 0.407, "y": 0.081}, {"series": "71-80", "x": 0.458, "y": 0.126},
      {"series": "71-80", "x": 0.515, "y": 0.156}, {"series": "71-80", "x": 0.579, "y": 0.19}, {"series": "71-80", "x": 0.652, "y": 0.25},
      {"series": "71-80", "x": 0.76, "y": 0.28}, {"series": "71-80", "x": 0.889, "y": 0.26}, {"series": "71-80", "x": 0.962, "y": 0.28},
      {"series": "71-80", "x": 1.04, "y": 0.21}, {"series": "71-80", "x": 1.17, "y": 0.18}, {"series": "71-80", "x": 1.31, "y": 0.138},
      {"series": "71-80", "x": 1.54, "y": 0.126}, {"series": "71-80", "x": 1.79, "y": 0.1}, {"series": "71-80", "x": 2.18, "y": 0.075},
      {"series": "71-80", "x": 2.65, "y": 0.059}, {"series": "71-80", "x": 2.82, "y": 0.039}, {"series": "71-80", "x": 3.57, "y": 0.027},
      {"series": "71-80", "x": 4.52, "y": 0.0187}, {"series": "71-80", "x": 5.71, "y": 0.013}, {"series": "71-80", "x": 6.27, "y": 0.0097},
      {"series": "71-80", "x": 7.1, "y": 0.0078}, {"series": "71-80", "x": 7.56, "y": 0.0075}, {"series": "71-80", "x": 7.92, "y": 0.0032},
      {"series": "71-80", "x": 8.24, "y": 0.001}, {"series": "71-80", "x": 8.9, "y": 0.0004}, {"series": "71-80", "x": 11.0, "y": 0.0004},
      {"series": "71-80", "x": 11.7, "y": 0.001}, {"series": "71-80", "x": 13.2, "y": 0.0105}, {"series": "71-80", "x": 13.8, "y": 0.001},
      {"series": "71-80", "x": 14.5, "y": 0.0004},

      {"series": "80-90", "x": 0.137, "y": 0.001}, {"series": "80-90", "x": 0.154, "y": 0.0017}, {"series": "80-90", "x": 0.173, "y": 0.0028},
      {"series": "80-90", "x": 0.194, "y": 0.005}, {"series": "80-90", "x": 0.218, "y": 0.0078}, {"series": "80-90", "x": 0.245, "y": 0.013},
      {"series": "80-90", "x": 0.276, "y": 0.022}, {"series": "80-90", "x": 0.31, "y": 0.034}, {"series": "80-90", "x": 0.348, "y": 0.042},
      {"series": "80-90", "x": 0.392, "y": 0.06}, {"series": "80-90", "x": 0.441, "y": 0.081}, {"series": "80-90", "x": 0.495, "y": 0.126},
      {"series": "80-90", "x": 0.557, "y": 0.17}, {"series": "80-90", "x": 0.652, "y": 0.195}, {"series": "80-90", "x": 0.732, "y": 0.24},
      {"series": "80-90", "x": 0.822, "y": 0.26}, {"series": "80-90", "x": 0.925, "y": 0.21}, {"series": "80-90", "x": 1.0, "y": 0.26},
      {"series": "80-90", "x": 1.12, "y": 0.3}, {"series": "80-90", "x": 1.26, "y": 0.24}, {"series": "80-90", "x": 1.42, "y": 0.31},
      {"series": "80-90", "x": 1.54, "y": 0.36}, {"series": "80-90", "x": 1.66, "y": 0.225}, {"series": "80-90", "x": 1.87, "y": 0.19},
      {"series": "80-90", "x": 2.1, "y": 0.145}, {"series": "80-90", "x": 2.36, "y": 0.126}, {"series": "80-90", "x": 2.65, "y": 0.094},
      {"series": "80-90", "x": 2.82, "y": 0.052}, {"series": "80-90", "x": 3.17, "y": 0.05}, {"series": "80-90", "x": 3.43, "y": 0.034},
      {"series": "80-90", "x": 4.02, "y": 0.0234}, {"series": "80-90", "x": 4.7, "y": 0.015}, {"series": "80-90", "x": 5.49, "y": 0.0097},
      {"series": "80-90", "x": 5.93, "y": 0.0083}, {"series": "80-90", "x": 6.41, "y": 0.005}, {"series": "80-90", "x": 7.2, "y": 0.0056},
      {"series": "80-90", "x": 8.43, "y": 0.0059}, {"series": "80-90", "x": 9.48, "y": 0.0044}, {"series": "80-90", "x": 10.5, "y": 0.0028},
      {"series": "80-90", "x": 11.2, "y": 0.0032}, {"series": "80-90", "x": 12.0, "y": 0.0068}, {"series": "80-90", "x": 12.7, "y": 0.0047},
      {"series": "80-90", "x": 13.3, "y": 0.0028}, {"series": "80-90", "x": 13.7, "y": 0.001}
    ]
  },
  "vconcat": [
    {
      "hconcat": [
        {
          "width": 295, "height": 213,
          "encoding": {
            "x": {"field": "x", "type": "quantitative", "scale": {"type": "log", "domain": [0.1, 100], "nice": false},
              "axis": {"title": "Γβ/β₀", "titlePadding": -2, "values": [0.1,0.2,0.3,0.4,0.5,0.6,0.7,0.8,0.9,1,2,3,4,5,6,7,8,9,10,20,30,40,50,60,70,80,90,100], "labelExpr": "datum.value == 0.1 ? '10⁻¹' : datum.value == 1 ? '10⁰' : datum.value == 10 ? '10¹' : ''", "tickSize": {"condition": {"test": "datum.value == 0.1 || datum.value == 1 || datum.value == 10 || datum.value == 100", "value": 3.5}, "value": 2}, "labelPadding": 0}},
            "y": {"field": "y", "type": "quantitative", "scale": {"type": "log", "domain": [0.001, 10], "nice": false},
              "axis": {"title": ["\u00a0\u00a0\u00a0\u00a0dE\u00a0\u00a0\u00a0\u00a0\u00a0\u00a0\u00a01", "d log(Γβ) E₀"], "titleFontSize": 10, "titleLineHeight": 12, "titlePadding": 1, "values": [0.001,0.002,0.003,0.004,0.005,0.006,0.007,0.008,0.009,0.01,0.02,0.03,0.04,0.05,0.06,0.07,0.08,0.09,0.1,0.2,0.3,0.4,0.5,0.6,0.7,0.8,0.9,1,2,3,4,5,6,7,8,9,10], "labelExpr": "datum.value == 0.001 ? '10⁻³' : datum.value == 0.01 ? '10⁻²' : datum.value == 0.1 ? '10⁻¹' : datum.value == 1 ? '10⁰' : datum.value == 10 ? '10¹' : ''", "tickSize": {"condition": {"test": "datum.value == 0.001 || datum.value == 0.01 || datum.value == 0.1 || datum.value == 1 || datum.value == 10", "value": 3.5}, "value": 2}, "labelPadding": 1}}
          },
          "layer": [
            {"data": {"name": "iso"}, "mark": {"type": "line", "clip": true},
              "encoding": {
                "color": {"field": "series", "type": "nominal", "scale": {"domain": ["iso","all","0-34","34-48","48-60","60-71","71-80","80-90"], "range": ["#000000","#000000","#1f77b4","#ff7f0e","#2ca02c","#d62728","#9467bd","#8c564b"]},
                  "legend": {"title": null, "labelExpr": "datum.label == 'all' ? 'all' : datum.label == 'iso' ? 'iso, 0° ≤ θ < 34°' : replace(datum.label, '-', '° ≤ θ < ') + '°'"}},
                "strokeDash": {"field": "series", "type": "nominal", "scale": {"domain": ["iso","all","0-34","34-48","48-60","60-71","71-80","80-90"], "range": [[4,2],[1,0],[1,0],[1,0],[1,0],[1,0],[1,0],[1,0]]},
                  "legend": {"title": null, "labelExpr": "datum.label == 'all' ? 'all' : datum.label == 'iso' ? 'iso, 0° ≤ θ < 34°' : replace(datum.label, '-', '° ≤ θ < ') + '°'"}}
              }},
            {"data": {"name": "tl"}, "mark": {"type": "line", "clip": true},
              "encoding": {
                "color": {"field": "series", "type": "nominal", "scale": {"domain": ["iso","all","0-34","34-48","48-60","60-71","71-80","80-90"], "range": ["#000000","#000000","#1f77b4","#ff7f0e","#2ca02c","#d62728","#9467bd","#8c564b"]},
                  "legend": {"title": null, "labelExpr": "datum.label == 'all' ? 'all' : datum.label == 'iso' ? 'iso, 0° ≤ θ < 34°' : replace(datum.label, '-', '° ≤ θ < ') + '°'"}},
                "strokeDash": {"field": "series", "type": "nominal", "scale": {"domain": ["iso","all","0-34","34-48","48-60","60-71","71-80","80-90"], "range": [[4,2],[1,0],[1,0],[1,0],[1,0],[1,0],[1,0],[1,0]]},
                  "legend": {"title": null, "labelExpr": "datum.label == 'all' ? 'all' : datum.label == 'iso' ? 'iso, 0° ≤ θ < 34°' : replace(datum.label, '-', '° ≤ θ < ') + '°'"}}
              }},
            {"data": {"values": [{"x": 0.141, "y": 4.6, "note": "θⱼ = 0.2 rad, tₑ = 0.57 s"}, {"x": 0.141, "y": 2.4, "note": "(V∗/Vbo)¹ᐟ² = 1.95"}]},
              "mark": {"type": "text", "align": "left", "baseline": "middle", "fontSize": 10, "color": "#000"},
              "encoding": {"text": {"field": "note"}}}
          ]
        },
        {
          "width": 295, "height": 213,
          "encoding": {
            "x": {"field": "x", "type": "quantitative", "scale": {"type": "log", "domain": [0.1, 100], "nice": false},
              "axis": {"title": "Γβ/β₀", "titlePadding": -2, "values": [0.1,0.2,0.3,0.4,0.5,0.6,0.7,0.8,0.9,1,2,3,4,5,6,7,8,9,10,20,30,40,50,60,70,80,90,100], "labelExpr": "datum.value == 0.1 ? '10⁻¹' : datum.value == 1 ? '10⁰' : datum.value == 10 ? '10¹' : datum.value == 100 ? '10²' : ''", "tickSize": {"condition": {"test": "datum.value == 0.1 || datum.value == 1 || datum.value == 10 || datum.value == 100", "value": 3.5}, "value": 2}, "labelPadding": 0}},
            "y": {"field": "y", "type": "quantitative", "scale": {"type": "log", "domain": [0.001, 10], "nice": false},
              "axis": {"title": null, "labels": false, "values": [0.001,0.002,0.003,0.004,0.005,0.006,0.007,0.008,0.009,0.01,0.02,0.03,0.04,0.05,0.06,0.07,0.08,0.09,0.1,0.2,0.3,0.4,0.5,0.6,0.7,0.8,0.9,1,2,3,4,5,6,7,8,9,10], "tickSize": {"condition": {"test": "datum.value == 0.001 || datum.value == 0.01 || datum.value == 0.1 || datum.value == 1 || datum.value == 10", "value": 3.5}, "value": 2}}}
          },
          "layer": [
            {"data": {"name": "iso"}, "mark": {"type": "line", "clip": true},
              "encoding": {
                "color": {"field": "series", "type": "nominal", "scale": {"domain": ["iso","all","0-34","34-48","48-60","60-71","71-80","80-90"], "range": ["#000000","#000000","#1f77b4","#ff7f0e","#2ca02c","#d62728","#9467bd","#8c564b"]},
                  "legend": {"title": null, "labelExpr": "datum.label == 'all' ? 'all' : datum.label == 'iso' ? 'iso, 0° ≤ θ < 34°' : replace(datum.label, '-', '° ≤ θ < ') + '°'"}},
                "strokeDash": {"field": "series", "type": "nominal", "scale": {"domain": ["iso","all","0-34","34-48","48-60","60-71","71-80","80-90"], "range": [[4,2],[1,0],[1,0],[1,0],[1,0],[1,0],[1,0],[1,0]]},
                  "legend": {"title": null, "labelExpr": "datum.label == 'all' ? 'all' : datum.label == 'iso' ? 'iso, 0° ≤ θ < 34°' : replace(datum.label, '-', '° ≤ θ < ') + '°'"}}
              }},
            {"data": {"name": "tr"}, "mark": {"type": "line", "clip": true},
              "encoding": {
                "color": {"field": "series", "type": "nominal", "scale": {"domain": ["iso","all","0-34","34-48","48-60","60-71","71-80","80-90"], "range": ["#000000","#000000","#1f77b4","#ff7f0e","#2ca02c","#d62728","#9467bd","#8c564b"]},
                  "legend": {"title": null, "labelExpr": "datum.label == 'all' ? 'all' : datum.label == 'iso' ? 'iso, 0° ≤ θ < 34°' : replace(datum.label, '-', '° ≤ θ < ') + '°'"}},
                "strokeDash": {"field": "series", "type": "nominal", "scale": {"domain": ["iso","all","0-34","34-48","48-60","60-71","71-80","80-90"], "range": [[4,2],[1,0],[1,0],[1,0],[1,0],[1,0],[1,0],[1,0]]},
                  "legend": {"title": null, "labelExpr": "datum.label == 'all' ? 'all' : datum.label == 'iso' ? 'iso, 0° ≤ θ < 34°' : replace(datum.label, '-', '° ≤ θ < ') + '°'"}}
              }},
            {"data": {"values": [{"x": 0.141, "y": 4.6, "note": "θⱼ = 0.6 rad, tₑ = 4 s"}, {"x": 0.141, "y": 2.4, "note": "(V∗/Vbo)¹ᐟ² = 1.95"}]},
              "mark": {"type": "text", "align": "left", "baseline": "middle", "fontSize": 10, "color": "#000"},
              "encoding": {"text": {"field": "note"}}}
          ]
        }
      ],
      "spacing": 0,
      "bounds": "flush",
      "resolve": {"scale": {"color": "independent", "strokeDash": "independent", "x": "independent", "y": "independent"}}
    },
    {
      "hconcat": [
        {
          "width": 295, "height": 211,
          "encoding": {
            "x": {"field": "x", "type": "quantitative", "scale": {"type": "log", "domain": [0.1, 100], "nice": false},
              "axis": {"title": "Γβ/β₀", "titlePadding": -2, "values": [0.1,0.2,0.3,0.4,0.5,0.6,0.7,0.8,0.9,1,2,3,4,5,6,7,8,9,10,20,30,40,50,60,70,80,90,100], "labelExpr": "datum.value == 0.1 ? '10⁻¹' : datum.value == 1 ? '10⁰' : datum.value == 10 ? '10¹' : ''", "tickSize": {"condition": {"test": "datum.value == 0.1 || datum.value == 1 || datum.value == 10 || datum.value == 100", "value": 3.5}, "value": 2}, "labelPadding": 0}},
            "y": {"field": "y", "type": "quantitative", "scale": {"type": "log", "domain": [0.001, 10], "nice": false},
              "axis": {"title": ["\u00a0\u00a0\u00a0\u00a0dE\u00a0\u00a0\u00a0\u00a0\u00a0\u00a0\u00a01", "d log(Γβ) E₀"], "titleFontSize": 10, "titleLineHeight": 12, "titlePadding": 1, "values": [0.001,0.002,0.003,0.004,0.005,0.006,0.007,0.008,0.009,0.01,0.02,0.03,0.04,0.05,0.06,0.07,0.08,0.09,0.1,0.2,0.3,0.4,0.5,0.6,0.7,0.8,0.9,1,2,3,4,5,6,7,8,9,10], "labelExpr": "datum.value == 0.001 ? '10⁻³' : datum.value == 0.01 ? '10⁻²' : datum.value == 0.1 ? '10⁻¹' : datum.value == 1 ? '10⁰' : datum.value == 10 ? '10¹' : ''", "tickSize": {"condition": {"test": "datum.value == 0.001 || datum.value == 0.01 || datum.value == 0.1 || datum.value == 1 || datum.value == 10", "value": 3.5}, "value": 2}, "labelPadding": 1}}
          },
          "layer": [
            {"data": {"name": "iso"}, "mark": {"type": "line", "clip": true},
              "encoding": {
                "color": {"field": "series", "type": "nominal", "scale": {"domain": ["iso","all","0-34","34-48","48-60","60-71","71-80","80-90"], "range": ["#000000","#000000","#1f77b4","#ff7f0e","#2ca02c","#d62728","#9467bd","#8c564b"]}, "legend": null},
                "strokeDash": {"field": "series", "type": "nominal", "scale": {"domain": ["iso","all","0-34","34-48","48-60","60-71","71-80","80-90"], "range": [[4,2],[1,0],[1,0],[1,0],[1,0],[1,0],[1,0],[1,0]]}, "legend": null}
              }},
            {"data": {"name": "bl"}, "mark": {"type": "line", "clip": true},
              "encoding": {
                "color": {"field": "series", "type": "nominal", "scale": {"domain": ["iso","all","0-34","34-48","48-60","60-71","71-80","80-90"], "range": ["#000000","#000000","#1f77b4","#ff7f0e","#2ca02c","#d62728","#9467bd","#8c564b"]}, "legend": null},
                "strokeDash": {"field": "series", "type": "nominal", "scale": {"domain": ["iso","all","0-34","34-48","48-60","60-71","71-80","80-90"], "range": [[4,2],[1,0],[1,0],[1,0],[1,0],[1,0],[1,0],[1,0]]}, "legend": null}
              }},
            {"data": {"values": [{"x": 0.141, "y": 4.6, "note": "θⱼ = 0.2 rad, tₑ = 4 s"}, {"x": 0.141, "y": 2.4, "note": "(V∗/Vbo)¹ᐟ² = 4.7"}]},
              "mark": {"type": "text", "align": "left", "baseline": "middle", "fontSize": 10, "color": "#000"},
              "encoding": {"text": {"field": "note"}}}
          ]
        },
        {
          "width": 295, "height": 211,
          "encoding": {
            "x": {"field": "x", "type": "quantitative", "scale": {"type": "log", "domain": [0.1, 100], "nice": false},
              "axis": {"title": "Γβ/β₀", "titlePadding": -2, "values": [0.1,0.2,0.3,0.4,0.5,0.6,0.7,0.8,0.9,1,2,3,4,5,6,7,8,9,10,20,30,40,50,60,70,80,90,100], "labelExpr": "datum.value == 0.1 ? '10⁻¹' : datum.value == 1 ? '10⁰' : datum.value == 10 ? '10¹' : datum.value == 100 ? '10²' : ''", "tickSize": {"condition": {"test": "datum.value == 0.1 || datum.value == 1 || datum.value == 10 || datum.value == 100", "value": 3.5}, "value": 2}, "labelPadding": 0}},
            "y": {"field": "y", "type": "quantitative", "scale": {"type": "log", "domain": [0.001, 10], "nice": false},
              "axis": {"title": null, "labels": false, "values": [0.001,0.002,0.003,0.004,0.005,0.006,0.007,0.008,0.009,0.01,0.02,0.03,0.04,0.05,0.06,0.07,0.08,0.09,0.1,0.2,0.3,0.4,0.5,0.6,0.7,0.8,0.9,1,2,3,4,5,6,7,8,9,10], "tickSize": {"condition": {"test": "datum.value == 0.001 || datum.value == 0.01 || datum.value == 0.1 || datum.value == 1 || datum.value == 10", "value": 3.5}, "value": 2}}}
          },
          "layer": [
            {"data": {"name": "iso"}, "mark": {"type": "line", "clip": true},
              "encoding": {
                "color": {"field": "series", "type": "nominal", "scale": {"domain": ["iso","all","0-34","34-48","48-60","60-71","71-80","80-90"], "range": ["#000000","#000000","#1f77b4","#ff7f0e","#2ca02c","#d62728","#9467bd","#8c564b"]}, "legend": null},
                "strokeDash": {"field": "series", "type": "nominal", "scale": {"domain": ["iso","all","0-34","34-48","48-60","60-71","71-80","80-90"], "range": [[4,2],[1,0],[1,0],[1,0],[1,0],[1,0],[1,0],[1,0]]}, "legend": null}
              }},
            {"data": {"name": "br"}, "mark": {"type": "line", "clip": true},
              "encoding": {
                "color": {"field": "series", "type": "nominal", "scale": {"domain": ["iso","all","0-34","34-48","48-60","60-71","71-80","80-90"], "range": ["#000000","#000000","#1f77b4","#ff7f0e","#2ca02c","#d62728","#9467bd","#8c564b"]}, "legend": null},
                "strokeDash": {"field": "series", "type": "nominal", "scale": {"domain": ["iso","all","0-34","34-48","48-60","60-71","71-80","80-90"], "range": [[4,2],[1,0],[1,0],[1,0],[1,0],[1,0],[1,0],[1,0]]}, "legend": null}
              }},
            {"data": {"values": [{"x": 0.141, "y": 4.6, "note": "θⱼ = 0.6 rad, tₑ = 15 s"}, {"x": 0.141, "y": 2.4, "note": "(V∗/Vbo)¹ᐟ² = 4.0"}]},
              "mark": {"type": "text", "align": "left", "baseline": "middle", "fontSize": 10, "color": "#000"},
              "encoding": {"text": {"field": "note"}}}
          ]
        }
      ],
      "spacing": 0,
      "bounds": "flush",
      "resolve": {"scale": {"color": "independent", "strokeDash": "independent", "x": "independent", "y": "independent"}}
    }
  ],
  "spacing": 10,
  "resolve": {"scale": {"color": "independent", "strokeDash": "independent", "x": "independent", "y": "independent"}}
}
